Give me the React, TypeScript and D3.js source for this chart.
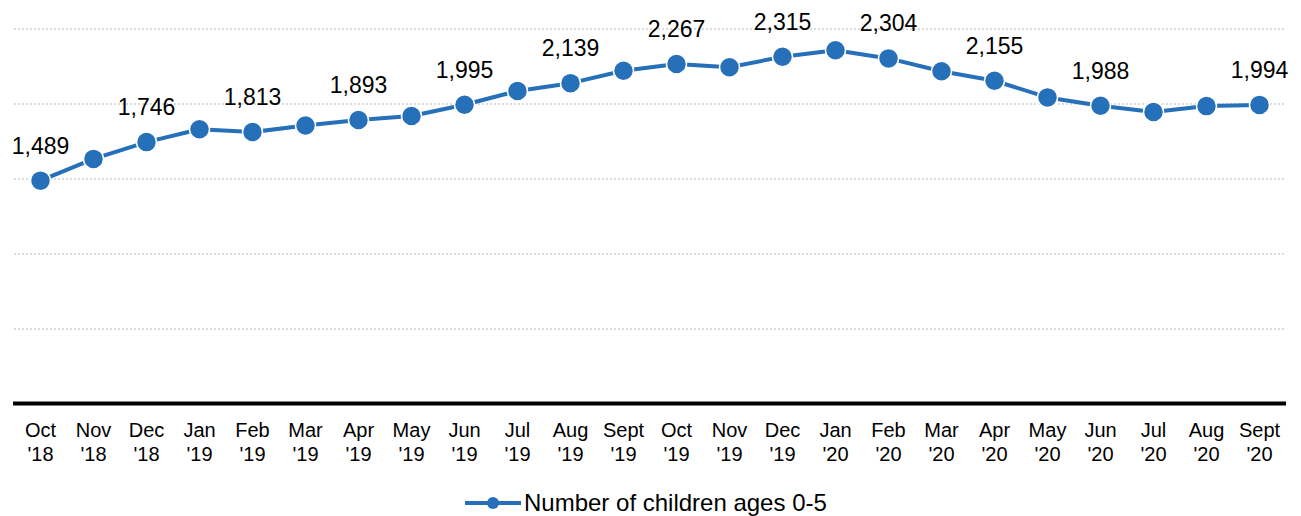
import React from "react";
import * as d3 from "d3";

const months = [
  "Oct '18", "Nov '18", "Dec '18", "Jan '19", "Feb '19", "Mar '19", "Apr '19", "May '19",
  "Jun '19", "Jul '19", "Aug '19", "Sept '19", "Oct '19", "Nov '19", "Dec '19", "Jan '20",
  "Feb '20", "Mar '20", "Apr '20", "May '20", "Jun '20", "Jul '20", "Aug '20", "Sept '20",
];

const children = [
  1489, 1634, 1746, 1832, 1813, 1857, 1893, 1920,
  1995, 2087, 2139, 2222, 2267, 2245, 2315, 2358,
  2304, 2218, 2155, 2044, 1988, 1947, 1986, 1994,
];

// Months whose value is printed above the marker
const labeledMonths = [
  "Oct '18", "Dec '18", "Feb '19", "Apr '19", "Jun '19", "Aug '19",
  "Oct '19", "Dec '19", "Feb '20", "Apr '20", "Jun '20", "Sept '20",
];

const gridValues = [500, 1000, 1500, 2000, 2500];

const seriesName = "Number of children ages 0-5";

const W = 1301;
const H = 516;
const BLUE = "#2570B8";
const FONT = "'Liberation Sans', Arial, Helvetica, sans-serif";

export default function App() {
  const x = d3.scalePoint<string>().domain(months).range([14, 1286]).padding(0.5);
  const y = d3.scaleLinear().domain([0, 2500]).range([404, 29]);

  const line = d3
    .line<number>()
    .x((_, i) => x(months[i]) as number)
    .y((d) => y(d));

  const fmt = d3.format(",");

  return (
    <svg
      width={W}
      height={H}
      style={{ position: "absolute", left: 0, top: 0, background: "#fff" }}
      fontFamily={FONT}
    >
      {gridValues.map((v) => (
        <line
          key={v}
          x1={14}
          x2={1284}
          y1={y(v)}
          y2={y(v)}
          stroke="#cfcfcf"
          strokeWidth={1.5}
          strokeDasharray="2,2"
        />
      ))}

      <line x1={13} x2={1286} y1={403.5} y2={403.5} stroke="#000" strokeWidth={4} />

      <path d={line(children) || ""} fill="none" stroke={BLUE} strokeWidth={4} strokeLinejoin="round" />

      {children.map((v, i) => (
        <circle
          key={months[i]}
          cx={x(months[i])}
          cy={y(v)}
          r={10}
          fill={BLUE}
          stroke="#fff"
          strokeWidth={1.5}
        />
      ))}

      {children.map((v, i) =>
        labeledMonths.includes(months[i]) ? (
          <text
            key={"l" + months[i]}
            x={x(months[i])}
            y={y(v) - 27}
            textAnchor="middle"
            fontSize={23}
            fill="#000"
          >
            {fmt(v)}
          </text>
        ) : null
      )}

      {months.map((m) => {
        const [mon, yr] = m.split(" ");
        return (
          <text key={"t" + m} x={x(m)} textAnchor="middle" fontSize={20} fill="#000">
            <tspan x={x(m)} y={437}>{mon}</tspan>
            <tspan x={x(m)} y={461}>{yr}</tspan>
          </text>
        );
      })}

      <g transform="translate(465,503)">
        <line x1={0} x2={56} y1={0} y2={0} stroke={BLUE} strokeWidth={4} />
        <circle cx={28} cy={0} r={6} fill={BLUE} />
        <text x={59} y={8} fontSize={24} fill="#000">{seriesName}</text>
      </g>
    </svg>
  );
}
